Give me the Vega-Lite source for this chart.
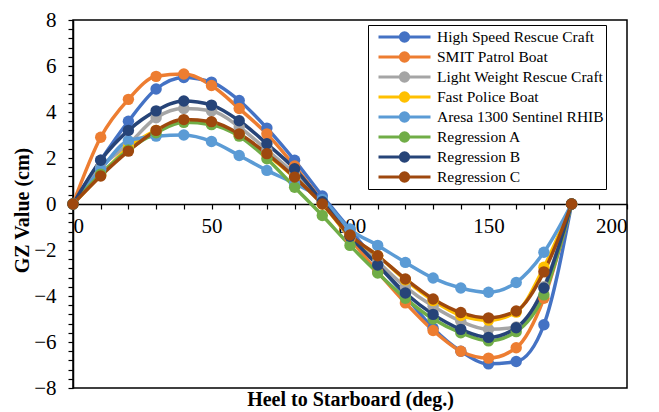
{
  "$schema": "https://vega.github.io/schema/vega-lite/v6.json",
  "width": 554,
  "height": 368,
  "autosize": {"type": "none"},
  "padding": {"left": 73, "top": 20, "right": 32, "bottom": 24},
  "background": "white",
  "config": {
    "font": "Liberation Serif, Times New Roman, serif",
    "view": {"stroke": "black", "strokeWidth": 1.5}
  },
  "data": {
    "values": [
      {"deg": 0, "High Speed Rescue Craft": 0, "SMIT Patrol Boat": 0, "Light Weight Rescue Craft": 0, "Fast Police Boat": 0, "Aresa 1300 Sentinel RHIB": 0, "Regression A": 0, "Regression B": 0, "Regression C": 0},
      {"deg": 10, "High Speed Rescue Craft": 1.9, "SMIT Patrol Boat": 2.9, "Light Weight Rescue Craft": 1.6, "Fast Police Boat": 1.25, "Aresa 1300 Sentinel RHIB": 1.5, "Regression A": 1.3, "Regression B": 1.9, "Regression C": 1.22},
      {"deg": 20, "High Speed Rescue Craft": 3.6, "SMIT Patrol Boat": 4.55, "Light Weight Rescue Craft": 2.6, "Fast Police Boat": 2.45, "Aresa 1300 Sentinel RHIB": 2.75, "Regression A": 2.35, "Regression B": 3.2, "Regression C": 2.3},
      {"deg": 30, "High Speed Rescue Craft": 5.0, "SMIT Patrol Boat": 5.55, "Light Weight Rescue Craft": 3.75, "Fast Police Boat": 3.2, "Aresa 1300 Sentinel RHIB": 2.95, "Regression A": 3.1, "Regression B": 4.05, "Regression C": 3.2},
      {"deg": 40, "High Speed Rescue Craft": 5.5, "SMIT Patrol Boat": 5.65, "Light Weight Rescue Craft": 4.15, "Fast Police Boat": 3.6, "Aresa 1300 Sentinel RHIB": 3.0, "Regression A": 3.55, "Regression B": 4.48, "Regression C": 3.67},
      {"deg": 50, "High Speed Rescue Craft": 5.3, "SMIT Patrol Boat": 5.15, "Light Weight Rescue Craft": 4.05, "Fast Police Boat": 3.5, "Aresa 1300 Sentinel RHIB": 2.72, "Regression A": 3.45, "Regression B": 4.3, "Regression C": 3.58},
      {"deg": 60, "High Speed Rescue Craft": 4.5, "SMIT Patrol Boat": 4.15, "Light Weight Rescue Craft": 3.35, "Fast Police Boat": 3.0, "Aresa 1300 Sentinel RHIB": 2.11, "Regression A": 2.95, "Regression B": 3.62, "Regression C": 3.05},
      {"deg": 70, "High Speed Rescue Craft": 3.3, "SMIT Patrol Boat": 3.05, "Light Weight Rescue Craft": 2.35, "Fast Police Boat": 2.15, "Aresa 1300 Sentinel RHIB": 1.46, "Regression A": 1.97, "Regression B": 2.62, "Regression C": 2.19},
      {"deg": 80, "High Speed Rescue Craft": 1.9, "SMIT Patrol Boat": 1.65, "Light Weight Rescue Craft": 1.3, "Fast Police Boat": 1.15, "Aresa 1300 Sentinel RHIB": 0.89, "Regression A": 0.73, "Regression B": 1.53, "Regression C": 1.17},
      {"deg": 90, "High Speed Rescue Craft": 0.35, "SMIT Patrol Boat": 0.1, "Light Weight Rescue Craft": 0.05, "Fast Police Boat": 0.0, "Aresa 1300 Sentinel RHIB": 0.2, "Regression A": -0.5, "Regression B": 0.1, "Regression C": 0.0},
      {"deg": 100, "High Speed Rescue Craft": -1.1, "SMIT Patrol Boat": -1.5, "Light Weight Rescue Craft": -1.4, "Fast Police Boat": -1.4, "Aresa 1300 Sentinel RHIB": -1.1, "Regression A": -1.8, "Regression B": -1.4, "Regression C": -1.35},
      {"deg": 110, "High Speed Rescue Craft": -2.6, "SMIT Patrol Boat": -2.95, "Light Weight Rescue Craft": -2.5, "Fast Police Boat": -2.25, "Aresa 1300 Sentinel RHIB": -1.8, "Regression A": -3.0, "Regression B": -2.65, "Regression C": -2.25},
      {"deg": 120, "High Speed Rescue Craft": -4.0, "SMIT Patrol Boat": -4.3, "Light Weight Rescue Craft": -3.6, "Fast Police Boat": -3.3, "Aresa 1300 Sentinel RHIB": -2.54, "Regression A": -4.1, "Regression B": -3.87, "Regression C": -3.26},
      {"deg": 130, "High Speed Rescue Craft": -5.4, "SMIT Patrol Boat": -5.5, "Light Weight Rescue Craft": -4.45, "Fast Police Boat": -4.2, "Aresa 1300 Sentinel RHIB": -3.22, "Regression A": -5.0, "Regression B": -4.8, "Regression C": -4.13},
      {"deg": 140, "High Speed Rescue Craft": -6.4, "SMIT Patrol Boat": -6.4, "Light Weight Rescue Craft": -5.1, "Fast Police Boat": -4.85, "Aresa 1300 Sentinel RHIB": -3.65, "Regression A": -5.6, "Regression B": -5.45, "Regression C": -4.72},
      {"deg": 150, "High Speed Rescue Craft": -6.95, "SMIT Patrol Boat": -6.7, "Light Weight Rescue Craft": -5.45, "Fast Police Boat": -5.05, "Aresa 1300 Sentinel RHIB": -3.84, "Regression A": -5.95, "Regression B": -5.8, "Regression C": -4.95},
      {"deg": 160, "High Speed Rescue Craft": -6.85, "SMIT Patrol Boat": -6.25, "Light Weight Rescue Craft": -5.35, "Fast Police Boat": -4.7, "Aresa 1300 Sentinel RHIB": -3.41, "Regression A": -5.55, "Regression B": -5.38, "Regression C": -4.65},
      {"deg": 170, "High Speed Rescue Craft": -5.25, "SMIT Patrol Boat": -4.1, "Light Weight Rescue Craft": -3.6, "Fast Police Boat": -2.75, "Aresa 1300 Sentinel RHIB": -2.1, "Regression A": -3.95, "Regression B": -3.65, "Regression C": -2.95},
      {"deg": 180, "High Speed Rescue Craft": 0, "SMIT Patrol Boat": 0, "Light Weight Rescue Craft": 0, "Fast Police Boat": 0, "Aresa 1300 Sentinel RHIB": 0, "Regression A": 0, "Regression B": 0, "Regression C": 0}
    ]
  },
  "transform": [
    {"fold": ["High Speed Rescue Craft", "SMIT Patrol Boat", "Light Weight Rescue Craft", "Fast Police Boat", "Aresa 1300 Sentinel RHIB", "Regression A", "Regression B", "Regression C"], "as": ["series", "gz"]}
  ],
  "encoding": {
    "x": {
      "field": "deg", "type": "quantitative",
      "scale": {"domain": [0, 200], "nice": false},
      "axis": {
        "title": "Heel to Starboard (deg.)",
        "orient": "bottom",
        "offset": -184,
        "values": [0, 10, 20, 30, 40, 50, 60, 70, 80, 90, 100, 110, 120, 130, 140, 150, 160, 170, 180, 190, 200],
        "labelExpr": "datum.value % 50 == 0 ? format(datum.value, 'd') : ''",
        "grid": false,
        "domainColor": "black", "domainWidth": 1.5,
        "tickColor": "black", "tickWidth": 1.2, "tickSize": 5,
        "labelFont": "Liberation Serif, Times New Roman, serif", "labelFontSize": 21, "labelColor": "black", "labelPadding": 6,
        "labelOverlap": false,
        "titleFont": "Liberation Serif, Times New Roman, serif", "titleFontSize": 20, "titleFontWeight": "bold", "titleColor": "black",
        "titleBaseline": "alphabetic", "titleY": 201
      }
    },
    "y": {
      "field": "gz", "type": "quantitative",
      "scale": {"domain": [-8, 8], "nice": false},
      "axis": {
        "title": "GZ Value (cm)",
        "values": [-8, -7.6, -7.2, -6.8, -6.4, -6, -5.6, -5.2, -4.8, -4.4, -4, -3.6, -3.2, -2.8, -2.4, -2, -1.6, -1.2, -0.8, -0.4, 0, 0.4, 0.8, 1.2, 1.6, 2, 2.4, 2.8, 3.2, 3.6, 4, 4.4, 4.8, 5.2, 5.6, 6, 6.4, 6.8, 7.2, 7.6, 8],
        "labelExpr": "abs(datum.value % 2) < 0.001 ? format(datum.value, 'd') : ''",
        "grid": false,
        "domainColor": "black", "domainWidth": 1.5,
        "tickColor": "black", "tickWidth": 1.2, "tickSize": 5,
        "labelFont": "Liberation Serif, Times New Roman, serif", "labelFontSize": 21, "labelColor": "black", "labelPadding": 12,
        "labelOverlap": false,
        "titleFont": "Liberation Serif, Times New Roman, serif", "titleFontSize": 20, "titleFontWeight": "bold", "titleColor": "black",
        "titleBaseline": "alphabetic", "titleX": -45, "titleY": 190
      }
    },
    "color": {
      "field": "series", "type": "nominal",
      "scale": {
        "domain": ["High Speed Rescue Craft", "SMIT Patrol Boat", "Light Weight Rescue Craft", "Fast Police Boat", "Aresa 1300 Sentinel RHIB", "Regression A", "Regression B", "Regression C"],
        "range": ["#4472C4", "#ED7D31", "#A5A5A5", "#FFC000", "#5B9BD5", "#70AD47", "#264478", "#9E480E"]
      },
      "legend": {
        "title": null,
        "orient": "none",
        "legendX": 295,
        "legendY": 5,
        "strokeColor": "black",
        "fillColor": "white",
        "padding": 2,
        "symbolOffset": 7,
        "symbolType": "M-1,0H1M-0.16,0A0.16,0.16 0 1,1 0.16,0A0.16,0.16 0 1,1 -0.16,0Z",
        "symbolSize": 2704,
        "symbolStrokeWidth": 3,
        "clipHeight": 20,
        "rowPadding": 0,
        "labelFont": "Liberation Serif, Times New Roman, serif",
        "labelFontSize": 15.5,
        "labelColor": "black",
        "labelLimit": 400,
        "labelOffset": 5
      }
    },
    "order": {"field": "deg", "type": "quantitative"}
  },
  "layer": [
    {"mark": {"type": "line", "interpolate": "monotone", "strokeWidth": 3.5}},
    {"mark": {"type": "point", "filled": true, "size": 130, "opacity": 1}}
  ]
}
